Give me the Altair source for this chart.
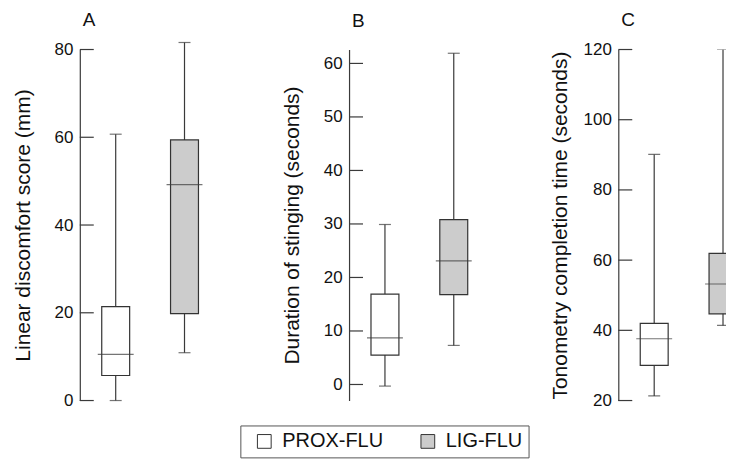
import altair as alt
import pandas as pd

groups = ["PROX-FLU", "LIG-FLU"]
fills = ["#ffffff", "#cccccc"]

# panel A: Linear discomfort score (mm)
a_min = [0.0, 10.9]
a_q1 = [5.7, 19.8]
a_med = [10.5, 49.2]
a_q3 = [21.4, 59.4]
a_max = [60.7, 81.6]

# panel B: Duration of stinging (seconds)
b_min = [-0.3, 7.3]
b_q1 = [5.5, 16.8]
b_med = [8.7, 23.1]
b_q3 = [16.9, 30.8]
b_max = [29.9, 61.9]

# panel C: Tonometry completion time (seconds)
c_min = [21.3, 41.4]
c_q1 = [30.0, 44.7]
c_med = [37.6, 53.2]
c_q3 = [42.0, 61.9]
c_max = [90.1, 120.0]

a_ticks = [0, 20, 40, 60, 80]
b_ticks = [0, 10, 20, 30, 40, 50, 60]
c_ticks = [20, 40, 60, 80, 100, 120]

FONT = "Liberation Sans"
LINE = "#3a3a3a"


def make_df(mn, q1, med, q3, mx):
    return pd.DataFrame({"group": groups, "lo": mn, "q1": q1, "med": med, "q3": q3, "hi": mx})


def panel(df, domain, ticks, ytitle, letter, width, title_x, title_offset, clip):
    xenc = alt.X("group:N",
                 scale=alt.Scale(type="point", domain=groups, range=[36, 105], padding=0),
                 axis=None)
    ysc = alt.Scale(domain=domain, nice=False, zero=False)
    main_axis = alt.Axis(orient="left", values=ticks, ticks=False, tickSize=0, grid=False,
                         labelPadding=7, labelFontSize=17, labelFont=FONT, labelColor="#111",
                         domainColor=LINE, domainWidth=1.2,
                         title=ytitle, titleFontSize=21, titleFont=FONT, titleFontWeight="normal",
                         titleColor="#111", titleX=title_x, titleBaseline="middle")
    base = alt.Chart(df)
    tick_marks = alt.Chart(pd.DataFrame({"v": ticks})).mark_rule(
        color=LINE, strokeWidth=1.2).encode(
        y=alt.Y("v:Q", scale=ysc, axis=None), x=alt.value(0), x2=alt.value(14))
    whisk = base.mark_rule(color=LINE, strokeWidth=1.2, clip=clip).encode(
        x=xenc, y=alt.Y("lo:Q", scale=ysc, axis=main_axis), y2="hi:Q")
    box = base.mark_bar(size=28, stroke="#333333", strokeWidth=1.2, clip=clip).encode(
        x=xenc, y=alt.Y("q1:Q", scale=ysc, axis=None), y2="q3:Q",
        fill=alt.Fill("group:N", scale=alt.Scale(domain=groups, range=fills),
                      legend=alt.Legend(title=None, orient="none", legendX=161, legendY=377,
                                        direction="horizontal", strokeColor="#555555",
                                        padding=6, symbolType="square", symbolSize=190,
                                        symbolStrokeColor="#333333", symbolStrokeWidth=1,
                                        symbolOffset=8, labelFont=FONT, labelFontSize=20,
                                        labelColor="#111", labelOffset=8, columnPadding=26)))
    med = base.mark_tick(size=36, thickness=1.2, color=LINE, clip=clip).encode(
        x=xenc, y=alt.Y("med:Q", scale=ysc, axis=None))
    cap_lo = base.mark_tick(size=12, thickness=1.2, color=LINE, clip=clip).encode(
        x=xenc, y=alt.Y("lo:Q", scale=ysc, axis=None))
    cap_hi = base.mark_tick(size=12, thickness=1.2, color=LINE, clip=clip).encode(
        x=xenc, y=alt.Y("hi:Q", scale=ysc, axis=None))
    return alt.layer(whisk, tick_marks, box, med, cap_lo, cap_hi).resolve_axis(
        y="independent").properties(
        width=width, height=352,
        title=alt.TitleParams(letter, anchor="start", frame="group", fontSize=19,
                              fontWeight="normal", font=FONT, color="#111", dx=3,
                              offset=title_offset))


pa = panel(make_df(a_min, a_q1, a_med, a_q3, a_max), [0, 80], a_ticks,
           "Linear discomfort score (mm)", "A", 150, -56, 11, False)
pb = panel(make_df(b_min, b_q1, b_med, b_q3, b_max), [-3.0, 62.6], b_ticks,
           "Duration of stinging (seconds)", "B", 148, -57, 19, False)
pc = panel(make_df(c_min, c_q1, c_med, c_q3, c_max), [20, 120], c_ticks,
           "Tonometry completion time (seconds)", "C", 108, -58, 11, True)

chart = alt.hconcat(pa, pb, pc, spacing=52).properties(
    padding={"left": 5, "top": 2, "right": 0, "bottom": 0}
).configure_view(stroke=None)

chart.save("out.html", embed_options={"renderer": "svg", "actions": False})
